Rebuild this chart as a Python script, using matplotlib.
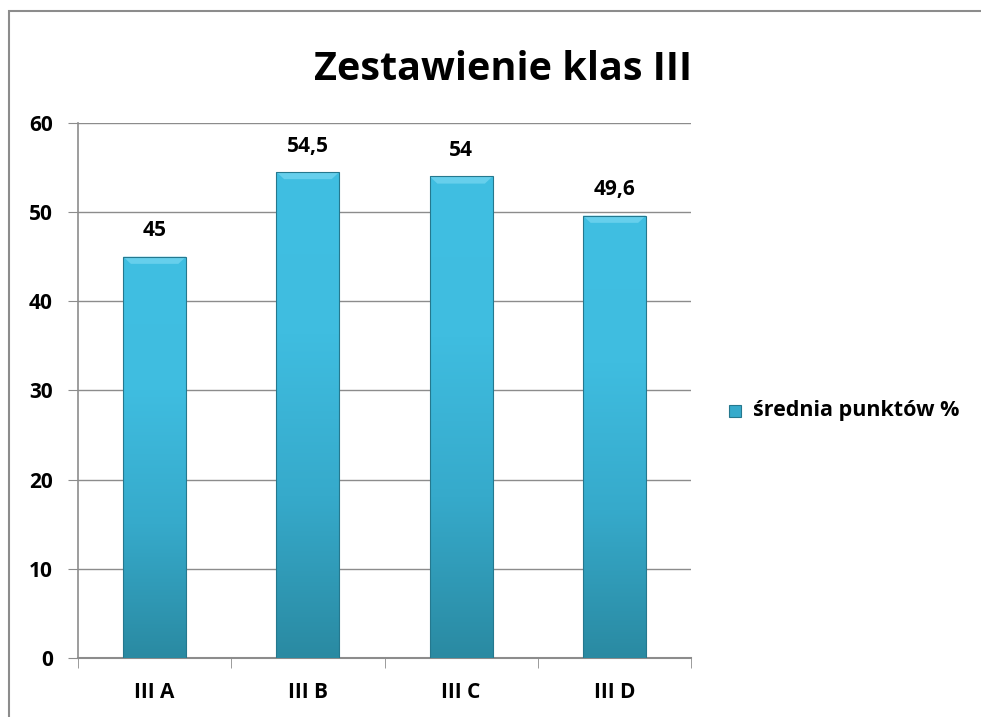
import numpy as np
import matplotlib.pyplot as plt
from matplotlib.patches import Rectangle, Polygon
from matplotlib.colors import LinearSegmentedColormap

plt.rcParams['font.family'] = ['Open Sans', 'DejaVu Sans']
plt.rcParams['font.weight'] = 'bold'

categories = ["III A", "III B", "III C", "III D"]
values = [45, 54.5, 54, 49.6]
value_labels = ["45", "54,5", "54", "49,6"]
series_name = "średnia punktów %"
title = "Zestawienie klas III"

fig = plt.figure(figsize=(9.81, 7.17), dpi=100)
ax = fig.add_axes([0.0795, 0.0823, 0.6249, 0.7462])

# outer frame (only left/top visible in the original)
fig.patches.append(Rectangle((9 / 981, -0.1), 1.5, 1.1 - 11 / 717, transform=fig.transFigure,
                             fill=False, edgecolor='#8c8c8c', linewidth=1.5, zorder=0))

cmap = LinearSegmentedColormap.from_list("bar", ["#2a8aa2", "#36aacb", "#3fbde0", "#40bfe2"])
grad = np.linspace(0, 1, 256).reshape(-1, 1)

x = np.arange(len(categories))
width = 0.41
bars = ax.bar(x, values, width=width, color='none', edgecolor='none', zorder=3)
for b, v in zip(bars, values):
    x0, w = b.get_x(), b.get_width()
    im = ax.imshow(grad, cmap=cmap, aspect='auto', origin='lower',
                   extent=[x0, x0 + w, 0, v], zorder=3)
    im.set_clip_path(b)
    # bevel on top edge
    bh = 0.8
    bw = 0.05
    ax.add_patch(Polygon([[x0, v], [x0 + w, v], [x0 + w - bw, v - bh], [x0 + bw, v - bh]],
                         closed=True, facecolor='#66cfec', edgecolor='none', zorder=4))
    ax.add_patch(Rectangle((x0, 0), w, v, fill=False, edgecolor='#25788e',
                           linewidth=0.8, zorder=5))

for xi, v, lab in zip(x, values, value_labels):
    ax.annotate(lab, (xi, v), xytext=(0, 11), textcoords='offset points',
                ha='center', va='bottom', fontsize=15, fontweight='bold')

ax.set_xlim(-0.5, len(categories) - 0.5)
ax.set_ylim(0, 60)
ax.set_yticks(range(0, 61, 10))
ax.set_xticks(x)
ax.set_xticklabels(categories)
ax.set_xticks(np.arange(-0.5, len(categories)), minor=True)
ax.tick_params(axis='x', which='major', length=0, pad=17, labelsize=15)
ax.tick_params(axis='x', which='minor', length=7, color='#8c8c8c', direction='out')
ax.tick_params(axis='y', length=7, color='#8c8c8c', labelsize=15, pad=11)
for t in ax.get_xticklabels() + ax.get_yticklabels():
    t.set_fontweight('bold')

ax.yaxis.grid(True, color='#8c8c8c', linewidth=1)
ax.set_axisbelow(True)
for s in ['top', 'right']:
    ax.spines[s].set_visible(False)
ax.spines['left'].set_color('#8c8c8c')
ax.spines['bottom'].set_color('#8c8c8c')
ax.spines['left'].set_linewidth(1.2)
ax.spines['bottom'].set_linewidth(1.5)

fig.text(0.513, 0.903, title, ha='center', va='center', fontsize=28.5, fontweight='bold')

# legend
fig.patches.append(Rectangle((729 / 981, 1 - 417 / 717), 12 / 981, 12 / 717,
                             transform=fig.transFigure, facecolor='#36aacb',
                             edgecolor='#25788e', linewidth=0.8))
fig.text(753 / 981, 1 - 410 / 717, series_name, ha='left', va='center',
         fontsize=15.5, fontweight='bold')

fig.savefig("out.png", dpi=100)
